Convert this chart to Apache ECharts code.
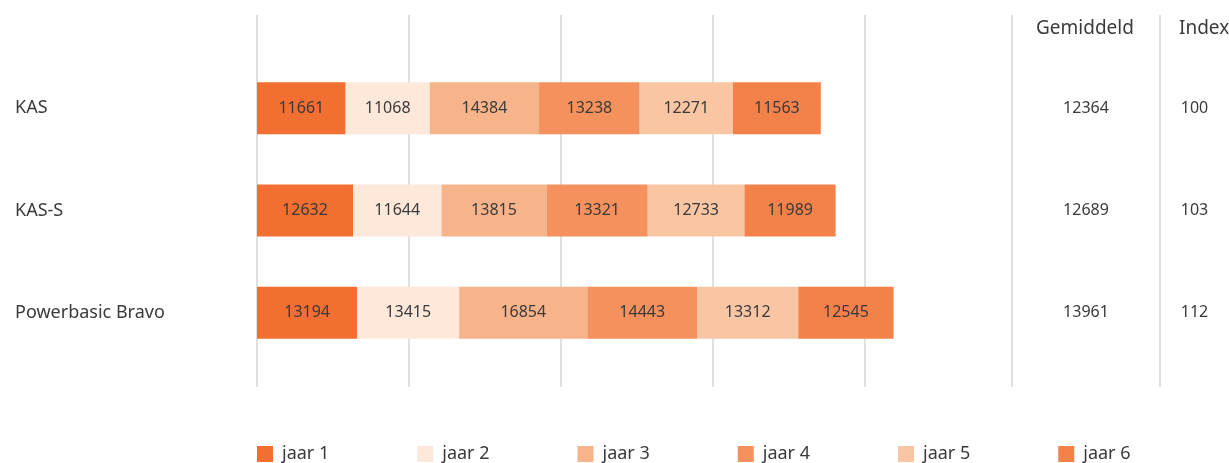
<!DOCTYPE html>
<html>
<head>
<meta charset="utf-8">
<script src="https://cdn.jsdelivr.net/npm/echarts@6/dist/echarts.min.js"></script>
<style>
  html, body { margin: 0; padding: 0; background: #fff; }
  #chart { width: 1229px; height: 463px; }
</style>
</head>
<body>
<div id="chart"></div>
<script>
// producten (bovenaan eerst)
const products = ['KAS', 'KAS-S', 'Powerbasic Bravo'];
const years = ['jaar 1', 'jaar 2', 'jaar 3', 'jaar 4', 'jaar 5', 'jaar 6'];
// opbrengst per jaar, per product
const jaar1 = [11661, 12632, 13194];
const jaar2 = [11068, 11644, 13415];
const jaar3 = [14384, 13815, 16854];
const jaar4 = [13238, 13321, 14443];
const jaar5 = [12271, 12733, 13312];
const jaar6 = [11563, 11989, 12545];
const gemiddeld = [12364, 12689, 13961];
const index = [100, 103, 112];

const colors = ['#F26F32', '#FDE8DA', '#F7B38A', '#F5915C', '#F9C5A3', '#F3814A'];
const font = 'Noto Sans';
const textColor = '#3a3a3a';

const chart = echarts.init(document.getElementById('chart'));

const yearData = [jaar1, jaar2, jaar3, jaar4, jaar5, jaar6];

const barSeries = years.map((name, i) => ({
    name: name,
    type: 'bar',
    stack: 'totaal',
    xAxisIndex: 1,
    yAxisIndex: 1,
    barWidth: 52,
    itemStyle: { color: colors[i] },
    label: {
        show: true,
        position: 'inside',
        color: textColor,
        fontFamily: font,
        fontSize: 16
    },
    data: yearData[i]
}));

function columnSeries(name, values, idx) {
    return {
        name: name,
        type: 'scatter',
        xAxisIndex: idx,
        yAxisIndex: idx,
        symbolSize: 0,
        silent: true,
        itemStyle: { opacity: 1 },
        label: {
            show: true,
            position: 'inside',
            color: textColor,
            fontFamily: font,
            fontSize: 16,
            formatter: p => values[p.dataIndex]
        },
        data: values.map(() => 0.5)
    };
}

// scheidingslijn aan de linkerkant van een kolom
function sepAxis(gridIndex) {
    return {
        type: 'value', gridIndex: gridIndex, min: 0, max: 1, interval: 1,
        axisLine: { show: false }, axisTick: { show: false }, axisLabel: { show: false },
        splitLine: { show: true, showMaxLine: false, lineStyle: { color: '#d6d6d6', width: 1.5 } }
    };
}

const option = {
    animation: false,
    textStyle: { fontFamily: font },
    legend: {
        top: 440,
        left: 252,
        itemWidth: 16,
        itemHeight: 16,
        itemGap: 88,
        icon: 'rect',
        textStyle: { color: textColor, fontSize: 18, fontFamily: font, padding: [0, 0, 0, 4] },
        data: years
    },
    graphic: [
        { type: 'text', left: 1036, top: 19, style: { text: 'Gemiddeld', font: '19px "Noto Sans"', fill: textColor } },
        { type: 'text', left: 1179, top: 19, style: { text: 'Index', font: '19px "Noto Sans"', fill: textColor } }
    ],
    grid: [
        { left: 257, right: 212, top: 15, bottom: 76 },   // rasterlijnen
        { left: 257, right: 212, top: 57, bottom: 99 },   // staven
        { left: 1012, width: 148, top: 15, bottom: 76 },  // gemiddeld
        { left: 1160, right: 0, top: 15, bottom: 76 },    // index
        { left: 1012, width: 148, top: 57, bottom: 99 },
        { left: 1160, right: 0, top: 57, bottom: 99 }
    ],
    xAxis: [
        {
            type: 'value', gridIndex: 0, min: 0, max: 100000, interval: 20000,
            axisLine: { show: false }, axisTick: { show: false }, axisLabel: { show: false },
            splitLine: { show: true, showMaxLine: false, lineStyle: { color: '#d6d6d6', width: 1.5 } }
        },
        {
            type: 'value', gridIndex: 1, min: 0, max: 100000, interval: 20000,
            axisLine: { show: false }, axisTick: { show: false }, axisLabel: { show: false },
            splitLine: { show: false }
        },
        sepAxis(2),
        sepAxis(3),
        { type: 'value', gridIndex: 4, min: 0, max: 1, show: false },
        { type: 'value', gridIndex: 5, min: 0, max: 1, show: false }
    ],
    yAxis: [
        { type: 'category', gridIndex: 0, show: false, data: products, inverse: true },
        {
            type: 'category', gridIndex: 1, data: products, inverse: true,
            axisLine: { show: false }, axisTick: { show: false },
            axisLabel: { align: 'left', margin: 242, color: textColor, fontSize: 18, fontFamily: font }
        },
        { type: 'category', gridIndex: 2, show: false, data: products, inverse: true },
        { type: 'category', gridIndex: 3, show: false, data: products, inverse: true },
        { type: 'category', gridIndex: 4, show: false, data: products, inverse: true },
        { type: 'category', gridIndex: 5, show: false, data: products, inverse: true }
    ],
    series: barSeries.concat([
        columnSeries('Gemiddeld', gemiddeld, 4),
        columnSeries('Index', index, 5)
    ])
};

chart.setOption(option);
</script>
</body>
</html>
